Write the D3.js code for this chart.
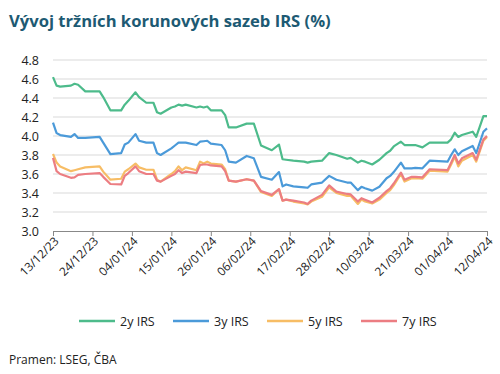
<!DOCTYPE html>
<html>
<head>
<meta charset="utf-8">
<script src="https://cdn.jsdelivr.net/npm/d3@7"></script>
<style>
  html, body { margin: 0; padding: 0; background: #fff; }
  svg { display: block; font-family: "Open Sans", "Noto Sans", sans-serif; }
</style>
</head>
<body>
<div id="chart"></div>
<script>
// Data
const dates = ["2023-12-13","2023-12-14","2023-12-15","2023-12-18","2023-12-19","2023-12-20","2023-12-22","2023-12-26","2023-12-27","2023-12-29",
  "2024-01-01","2024-01-02","2024-01-03","2024-01-05","2024-01-06","2024-01-08","2024-01-10","2024-01-11","2024-01-12","2024-01-15",
  "2024-01-16","2024-01-17","2024-01-18","2024-01-19","2024-01-22","2024-01-23","2024-01-24","2024-01-25","2024-01-26","2024-01-29",
  "2024-01-30","2024-01-31","2024-02-02","2024-02-05","2024-02-07","2024-02-09","2024-02-12","2024-02-14","2024-02-15","2024-02-16",
  "2024-02-18","2024-02-21","2024-02-22","2024-02-23","2024-02-26","2024-02-28","2024-03-01","2024-03-04","2024-03-05","2024-03-07",
  "2024-03-08","2024-03-09","2024-03-11","2024-03-13","2024-03-15","2024-03-16","2024-03-17","2024-03-19","2024-03-20","2024-03-22",
  "2024-03-23","2024-03-25","2024-03-27","2024-04-01","2024-04-02","2024-04-03","2024-04-04","2024-04-05","2024-04-08","2024-04-09",
  "2024-04-11","2024-04-12"];

const irs2y = [4.62,4.53,4.52,4.53,4.55,4.54,4.47,4.47,4.41,4.27,
  4.27,4.33,4.37,4.46,4.41,4.35,4.35,4.25,4.235,4.30,
  4.31,4.33,4.32,4.33,4.30,4.31,4.30,4.31,4.27,4.27,
  4.22,4.09,4.09,4.13,4.13,3.90,3.85,3.91,3.755,3.75,
  3.74,3.73,3.72,3.73,3.74,3.82,3.80,3.76,3.77,3.72,
  3.74,3.73,3.70,3.75,3.82,3.845,3.89,3.94,3.905,3.905,
  3.905,3.88,3.93,3.93,3.965,4.035,3.99,4.01,4.045,3.99,
  4.21,4.21];

const irs3y = [4.14,4.03,4.01,3.99,4.02,3.98,3.98,3.99,3.93,3.81,
  3.82,3.91,3.93,4.02,3.95,3.93,3.93,3.82,3.80,3.87,
  3.90,3.93,3.93,3.93,3.905,3.94,3.945,3.95,3.92,3.905,
  3.85,3.73,3.72,3.79,3.765,3.57,3.54,3.62,3.47,3.49,
  3.47,3.46,3.455,3.49,3.51,3.58,3.54,3.51,3.51,3.43,
  3.465,3.45,3.425,3.465,3.555,3.58,3.62,3.72,3.66,3.66,
  3.665,3.66,3.74,3.73,3.80,3.86,3.80,3.84,3.895,3.82,
  4.045,4.08];

const irs5y = [3.81,3.72,3.68,3.63,3.64,3.65,3.67,3.68,3.625,3.54,
  3.55,3.625,3.65,3.71,3.67,3.645,3.645,3.54,3.52,3.60,
  3.63,3.68,3.64,3.67,3.64,3.73,3.71,3.73,3.71,3.70,
  3.65,3.53,3.52,3.545,3.53,3.41,3.37,3.44,3.32,3.33,
  3.31,3.29,3.28,3.31,3.36,3.46,3.40,3.37,3.37,3.285,
  3.33,3.31,3.29,3.33,3.40,3.43,3.48,3.60,3.52,3.555,
  3.555,3.55,3.635,3.625,3.70,3.78,3.68,3.74,3.80,3.73,
  3.95,3.99];

const irs7y = [3.77,3.63,3.60,3.56,3.565,3.59,3.60,3.61,3.57,3.495,
  3.49,3.58,3.61,3.68,3.63,3.60,3.60,3.53,3.52,3.58,
  3.60,3.64,3.61,3.625,3.61,3.695,3.70,3.70,3.69,3.68,
  3.63,3.53,3.52,3.545,3.53,3.42,3.38,3.44,3.32,3.33,
  3.32,3.30,3.285,3.32,3.38,3.48,3.415,3.39,3.385,3.31,
  3.345,3.33,3.30,3.35,3.42,3.45,3.50,3.615,3.54,3.57,
  3.57,3.565,3.65,3.64,3.72,3.80,3.71,3.765,3.82,3.75,
  3.965,4.00];

const seriesNames = ["2y IRS", "3y IRS", "5y IRS", "7y IRS"];
const seriesValues = [irs2y, irs3y, irs5y, irs7y];
const seriesColors = ["#4dbb8b", "#4b9ad9", "#f7bd65", "#ec7d82"];

const xTickLabels = ["13/12/23","24/12/23","04/01/24","15/01/24","26/01/24","06/02/24",
  "17/02/24","28/02/24","10/03/24","21/03/24","01/04/24","12/04/24"];
const yTicks = [3.0, 3.2, 3.4, 3.6, 3.8, 4.0, 4.2, 4.4, 4.6, 4.8];

const W = 500, H = 374;
const margin = { left: 53, right: 13, top: 60, bottom: 143 };

const parseDate = d3.timeParse("%Y-%m-%d");
const parseTick = d3.timeParse("%d/%m/%y");
const xDates = dates.map(parseDate);
const tickDates = xTickLabels.map(parseTick);

const svg = d3.select("#chart").append("svg")
  .attr("width", W).attr("height", H);

const x = d3.scaleTime()
  .domain([tickDates[0], tickDates[tickDates.length - 1]])
  .range([margin.left, W - margin.right]);
const y = d3.scaleLinear()
  .domain([3.0, 4.8])
  .range([H - margin.bottom, margin.top]);

// Title
svg.append("text")
  .attr("x", 9).attr("y", 27)
  .attr("fill", "#1d5a73")
  .attr("font-size", 16.6).attr("font-weight", "bold")
  .text("Vývoj tržních korunových sazeb IRS (%)");

// Gridlines
svg.append("g")
  .selectAll("line")
  .data(yTicks.slice(1))
  .join("line")
  .attr("x1", margin.left).attr("x2", W - margin.right)
  .attr("y1", d => y(d)).attr("y2", d => y(d))
  .attr("stroke", "#d9d9d9").attr("stroke-width", 1);

// Y axis labels
svg.append("g")
  .selectAll("text")
  .data(yTicks)
  .join("text")
  .attr("x", 39).attr("y", d => y(d) + 4.5)
  .attr("text-anchor", "end")
  .attr("font-size", 12.5).attr("fill", "#222")
  .text(d => d.toFixed(1));

// X axis
const xAxis = d3.axisBottom(x)
  .tickValues(tickDates)
  .tickSize(5)
  .tickFormat((d, i) => xTickLabels[i]);

const gx = svg.append("g")
  .attr("transform", `translate(0,${y(3.0)})`)
  .call(xAxis);
gx.select(".domain").attr("stroke", "#888");
gx.selectAll(".tick line").attr("stroke", "#888");
gx.selectAll(".tick text")
  .attr("font-size", 11.8).attr("fill", "#222")
  .attr("font-family", "\"Open Sans\", sans-serif")
  .attr("text-anchor", "end")
  .attr("dy", null).attr("y", 0)
  .attr("transform", "translate(6,11) rotate(-45)");

// Lines
const line = d3.line()
  .x((d, i) => x(xDates[i]))
  .y(d => y(d));

svg.append("g")
  .selectAll("path")
  .data(seriesValues)
  .join("path")
  .attr("d", d => line(d))
  .attr("fill", "none")
  .attr("stroke", (d, i) => seriesColors[i])
  .attr("stroke-width", 2.2)
  .attr("stroke-linejoin", "round");

// Legend
const legendX = [79, 173, 267, 361];
const lg = svg.append("g").attr("transform", "translate(0,321)")
  .selectAll("g")
  .data(seriesNames)
  .join("g")
  .attr("transform", (d, i) => `translate(${legendX[i]},0)`);
lg.append("line")
  .attr("x1", 0).attr("x2", 36)
  .attr("stroke", (d, i) => seriesColors[i])
  .attr("stroke-width", 2.5);
lg.append("text")
  .attr("x", 41).attr("y", 4.5)
  .attr("font-size", 12.5).attr("fill", "#222")
  .text(d => d);

// Source
svg.append("text")
  .attr("x", 9).attr("y", 364)
  .attr("font-size", 12).attr("fill", "#222")
  .text("Pramen: LSEG, ČBA");
</script>
</body>
</html>
